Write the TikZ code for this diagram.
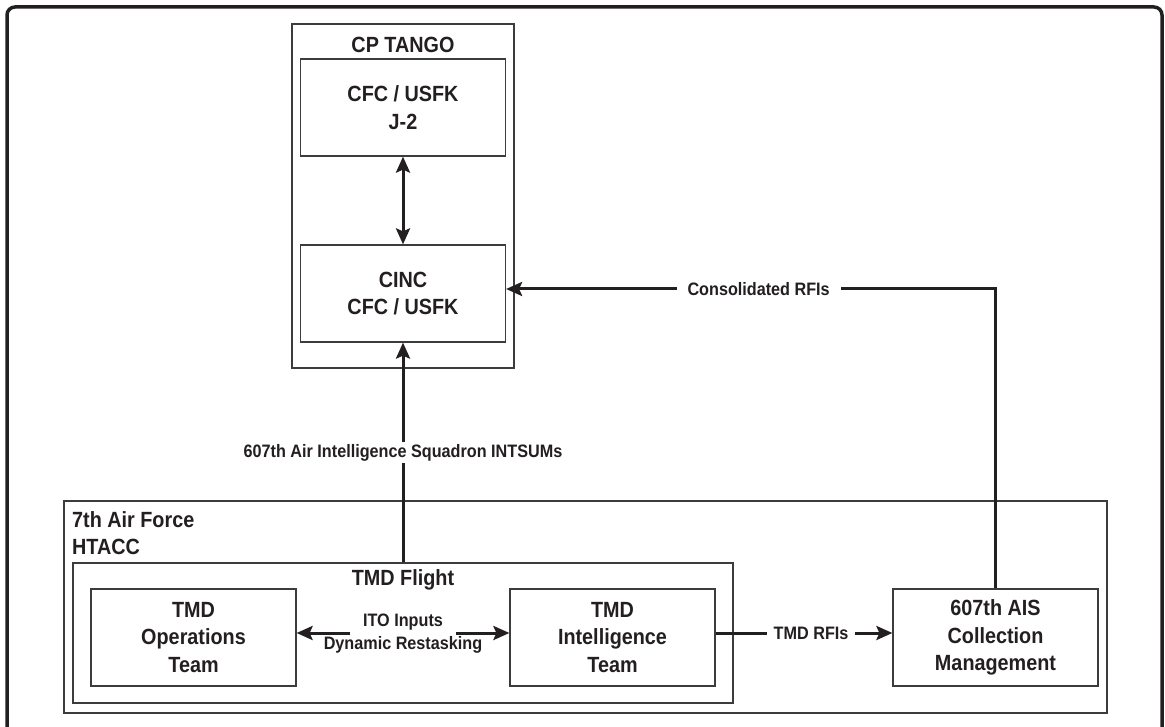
\documentclass[tikz,border=0pt]{standalone}
\usepackage{fontspec}
\setmainfont{Liberation Sans}[FakeStretch=0.9]
\usetikzlibrary{arrows.meta,positioning,calc}
\definecolor{ink}{RGB}{35,31,32}
\definecolor{rim}{RGB}{60,60,60}
\tikzset{
  unit/.style={draw=rim,line width=1.2pt,minimum width=205pt,minimum height=97pt,inner sep=0pt,
    align=center,text=ink,font=\fontsize{22}{27.5}\selectfont\bfseries},
  group/.style={draw=rim,line width=1.2pt,inner sep=0pt},
  title/.style={text=ink,inner sep=0pt,font=\fontsize{22}{27.5}\selectfont\bfseries},
  tag/.style={text=ink,fill=white,align=center,font=\fontsize{18}{23}\selectfont\bfseries},
  flow/.style={draw=ink,line width=3pt,-{Stealth[length=16pt,width=14pt,inset=3pt]}},
  bothflow/.style={draw=ink,line width=3pt,{Stealth[length=16pt,width=14pt,inset=3pt]}-{Stealth[length=16pt,width=14pt,inset=3pt]}}
}

\begin{document}
\begin{tikzpicture}[x=1pt,y=-1pt]
  \useasboundingbox (0,0) rectangle (1165,727);
  \draw[ink,line width=3.5pt,rounded corners=8pt] (7,727) -- (7,7) -- (1162,7) -- (1162,727); % 外枠

  % CP TANGO
  \node[group,minimum width=222pt,minimum height=344pt] (tango) at (403,196) {}; % 司令部の枠
  \node[title] (tangolbl) at (403,45) {CP TANGO};
  \node[unit] (jtwo) at (403,107.5) {CFC / USFK\\J-2};
  \node[unit] (cinc) at (403,293.5) {CINC\\CFC / USFK};

  % 7th Air Force
  \node[group,minimum width=1043pt,minimum height=212pt] (af) at (585.5,607) {}; % 空軍の枠
  \node[title,align=left,anchor=north west] (aflbl) at (72,511) {7th Air Force\\HTACC};
  \node[group,minimum width=660pt,minimum height=140pt] (flight) at (403,633) {}; % TMD Flight の枠
  \node[title] (flightlbl) at (403,580) {TMD Flight};
  \node[unit] (ops) at (193.5,637.5) {TMD\\Operations\\Team};
  \node[unit] (intel) at (612.5,637.5) {TMD\\Intelligence\\Team};
  \node[unit] (ais) at (995.5,637.5) {607th AIS\\Collection\\Management};

  % 矢印
  \draw[bothflow] (jtwo) -- (cinc); % J-2 と CINC の間
  \draw[flow] (flight.north) -- node[tag,inner sep=2pt] {607th Air Intelligence Squadron INTSUMs} (cinc.south);
  \draw[flow] (ais.north) |- node[tag,pos=0.742,inner xsep=11pt] {Consolidated RFIs} ([yshift=4.5pt]cinc.east);
  \node[tag,fill=none] (ito) at (403,634) {ITO Inputs\\Dynamic Restasking};
  \coordinate (itol) at (350,633); % ITO 矢印の左端
  \coordinate (itor) at (456,633); % ITO 矢印の右端
  \draw[flow] (itol) -- (itol -| ops.east);
  \draw[flow] (itor) -- (itor -| intel.west);
  \draw[flow] (intel.east |- itor) -- node[tag,pos=0.54,inner xsep=7pt] {TMD RFIs} (ais.west |- itor);
\end{tikzpicture}
\end{document}
